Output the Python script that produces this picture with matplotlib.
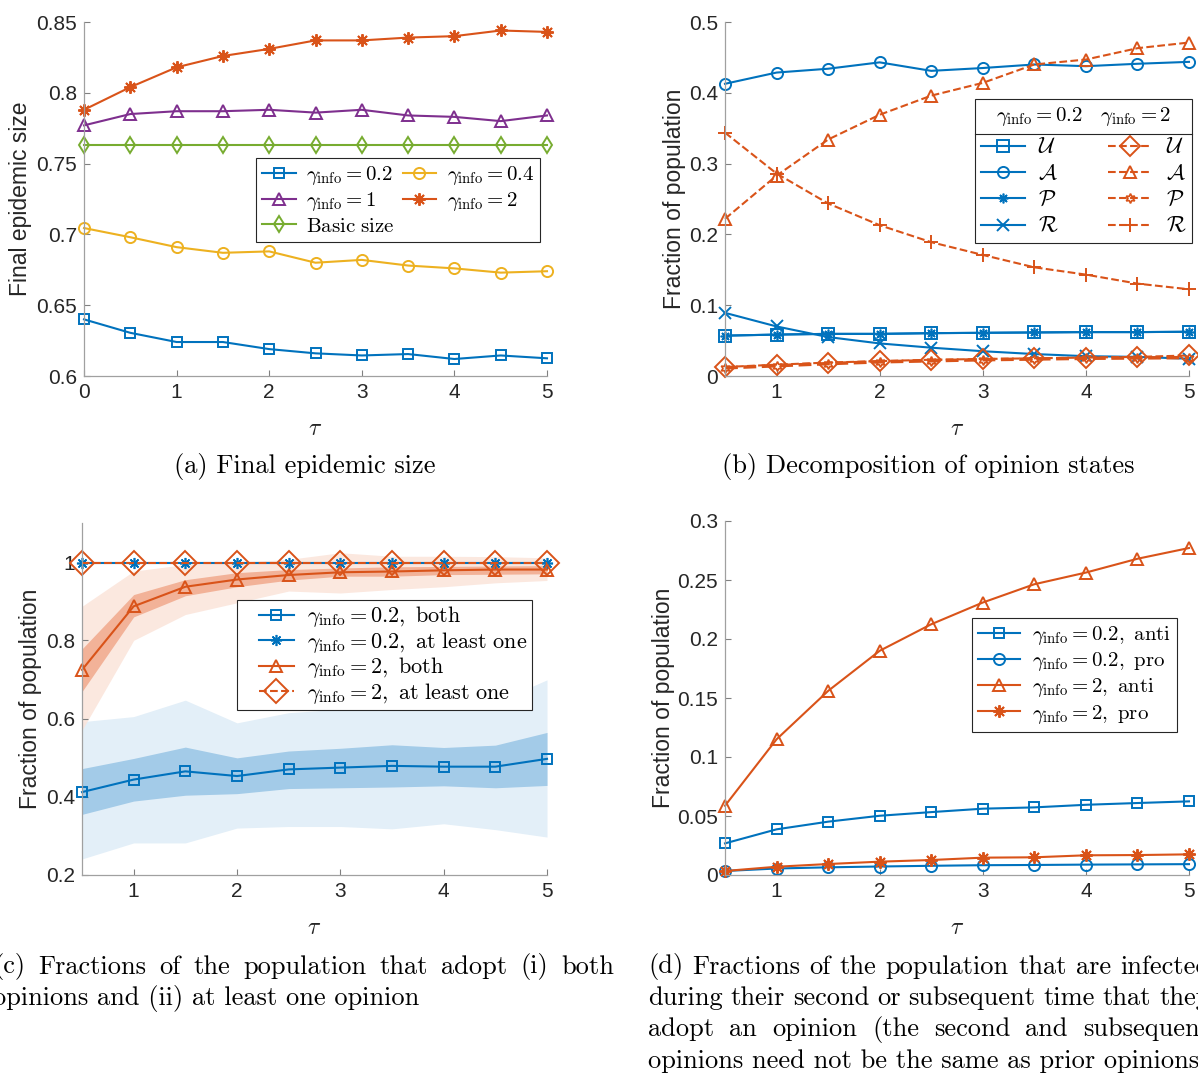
import matplotlib
matplotlib.use('Agg')
import matplotlib.pyplot as plt
from matplotlib.lines import Line2D
from matplotlib.legend_handler import HandlerLine2D
import numpy as np

plt.rcParams['font.family'] = ['Liberation Sans', 'DejaVu Sans']
plt.rcParams['mathtext.fontset'] = 'cm'

W, H = 1198, 1073
BLUE = '#0072BD'
RED = '#D95319'
YEL = '#EDB120'
PUR = '#7E2F8E'
GRN = '#77AC30'
AST = (8, 2, 0)   # MATLAB-style asterisk
HEXA = (6, 1, 0)  # hexagram

# ---- data: (a) final epidemic size
tau_a = [0, 0.5, 1, 1.5, 2, 2.5, 3, 3.5, 4, 4.5, 5]
size_g02 = [0.640, 0.6305, 0.624, 0.624, 0.619, 0.616, 0.6145, 0.6155, 0.612, 0.6145, 0.6125]
size_g04 = [0.7045, 0.698, 0.691, 0.687, 0.688, 0.680, 0.682, 0.678, 0.676, 0.673, 0.674]
size_g1 = [0.777, 0.785, 0.787, 0.787, 0.788, 0.786, 0.788, 0.784, 0.783, 0.780, 0.784]
size_g2 = [0.788, 0.804, 0.818, 0.826, 0.831, 0.837, 0.837, 0.839, 0.840, 0.844, 0.843]
size_basic = [0.763] * 11

# ---- data: (b) opinion states
tau = [0.5, 1, 1.5, 2, 2.5, 3, 3.5, 4, 4.5, 5]
U_g02 = [0.057, 0.0585, 0.0595, 0.0595, 0.0605, 0.061, 0.0615, 0.062, 0.062, 0.0625]
A_g02 = [0.4127, 0.4286, 0.434, 0.443, 0.431, 0.435, 0.440, 0.4376, 0.441, 0.4437]
P_g02 = [0.057, 0.0585, 0.0595, 0.0595, 0.0605, 0.061, 0.0615, 0.062, 0.062, 0.0625]
R_g02 = [0.0892, 0.070, 0.055, 0.046, 0.040, 0.035, 0.031, 0.028, 0.027, 0.0244]
U_g2 = [0.0127, 0.016, 0.019, 0.021, 0.023, 0.024, 0.025, 0.026, 0.027, 0.029]
A_g2 = [0.222, 0.283, 0.334, 0.369, 0.396, 0.414, 0.440, 0.447, 0.463, 0.471]
P_g2 = [0.0115, 0.0145, 0.0175, 0.020, 0.0215, 0.023, 0.024, 0.025, 0.0255, 0.026]
R_g2 = [0.3437, 0.286, 0.2437, 0.213, 0.189, 0.171, 0.1535, 0.1432, 0.1305, 0.1225]

# ---- data: (c) both / at least one, with bands
both_g02 = [0.412, 0.444, 0.465, 0.453, 0.470, 0.4746, 0.479, 0.477, 0.477, 0.497]
both_g02_in_hi = [0.472, 0.498, 0.527, 0.4995, 0.517, 0.524, 0.533, 0.526, 0.532, 0.5645]
both_g02_in_lo = [0.355, 0.389, 0.404, 0.408, 0.421, 0.423, 0.425, 0.428, 0.423, 0.429]
both_g02_out_hi = [0.592, 0.605, 0.647, 0.589, 0.615, 0.624, 0.641, 0.624, 0.641, 0.699]
both_g02_out_lo = [0.241, 0.282, 0.282, 0.320, 0.324, 0.324, 0.318, 0.331, 0.316, 0.297]
both_g2 = [0.7245, 0.887, 0.937, 0.9555, 0.967, 0.974, 0.976, 0.979, 0.981, 0.981]
both_g2_in_hi = [0.778, 0.917, 0.955, 0.973, 0.981, 0.985, 0.988, 0.989, 0.990, 0.991]
both_g2_in_lo = [0.669, 0.860, 0.914, 0.937, 0.954, 0.964, 0.964, 0.968, 0.969, 0.970]
both_g2_out_hi = [0.887, 0.977, 0.994, 1.000, 1.007, 1.024, 1.015, 1.015, 1.014, 1.011]
both_g2_out_lo = [0.570, 0.800, 0.866, 0.896, 0.926, 0.921, 0.930, 0.937, 0.947, 0.953]
one_g02 = [0.999] * 10
one_g2 = [0.999] * 10

# ---- data: (d) reinfection during second or later opinion
anti_g02 = [0.0268, 0.0387, 0.0452, 0.0502, 0.0533, 0.0562, 0.0573, 0.0595, 0.061, 0.0624]
pro_g02 = [0.0034, 0.0055, 0.0065, 0.0072, 0.0078, 0.0083, 0.0085, 0.0088, 0.009, 0.0092]
anti_g2 = [0.0587, 0.115, 0.156, 0.190, 0.2125, 0.2309, 0.2464, 0.2563, 0.268, 0.2771]
pro_g2 = [0.0034, 0.007, 0.0093, 0.0113, 0.0127, 0.0147, 0.015, 0.0167, 0.0169, 0.0175]

fig = plt.figure(figsize=(W / 100, H / 100), dpi=100)


def px_axes(l, r, t, b):
    return fig.add_axes([l / W, 1 - b / H, (r - l) / W, (b - t) / H])


def style(ax, xlim, xticks, ylim, yticks, ylabels):
    for s in ['top', 'right']:
        ax.spines[s].set_visible(False)
    for s in ['left', 'bottom']:
        ax.spines[s].set_color('#a0a0a0')
        ax.spines[s].set_linewidth(0.9)
    ax.set_xlim(xlim)
    ax.set_ylim(ylim)
    ax.set_xticks(xticks)
    ax.set_xticklabels([('%g' % v) for v in xticks])
    ax.set_yticks(yticks)
    ax.set_yticklabels(ylabels)
    ax.tick_params(direction='in', length=4, width=0.8, color='#808080',
                   labelcolor='#262626', labelsize=15, pad=5)
    ax.set_facecolor('none')


def gi(v):
    return r'$\gamma_{\rm info} = %s$' % v


lw = 1.5

# ================= (a)
ax = px_axes(84, 547, 22, 376)
ax.plot(tau_a, size_g02, '-s', color=BLUE, lw=lw, ms=6.5, mfc='none', mew=1.4, clip_on=False, label=gi('0.2'))
ax.plot(tau_a, size_g1, '-^', color=PUR, lw=lw, ms=8, mfc='none', mew=1.4, clip_on=False, label=gi('1'))
ax.plot(tau_a, size_basic, '-d', color=GRN, lw=lw, ms=8, mfc='none', mew=1.4, clip_on=False, label=r'$\mathrm{Basic\ size}$')
ax.plot(tau_a, size_g04, '-o', color=YEL, lw=lw, ms=8, mfc='none', mew=1.4, clip_on=False, label=gi('0.4'))
ax.plot(tau_a, size_g2, '-', marker=AST, color=RED, lw=lw, ms=9, mew=1.4, clip_on=False, label=gi('2'))
style(ax, (0, 5), [0, 1, 2, 3, 4, 5], (0.6, 0.85),
      [0.6, 0.65, 0.7, 0.75, 0.8, 0.85], ['0.6', '0.65', '0.7', '0.75', '0.8', '0.85'])
ax.set_ylabel('Final epidemic size', fontsize=16.5, color='#262626')
ax.yaxis.set_label_coords(-0.112, 0.5)
ax.set_xlabel(r'$\tau$', fontsize=17, color='#262626')
ax.xaxis.set_label_coords(0.5, -0.12)
leg = ax.legend(ncol=2, loc='upper left', bbox_to_anchor=(0.3715, 0.6158), borderaxespad=0,
                fontsize=15, handlelength=1.6, handletextpad=0.5, columnspacing=0.4,
                labelspacing=0.15, borderpad=0.3, fancybox=False, framealpha=1, edgecolor='#262626')
leg.get_frame().set_linewidth(0.8)

# ================= (b)
ax = px_axes(725, 1189, 22, 376)
hb = []
hb.append(ax.plot(tau, U_g02, '-s', color=BLUE, lw=lw, ms=9, mfc='none', mew=1.4, clip_on=False, label=r'$\mathcal{U}$')[0])
hb.append(ax.plot(tau, A_g02, '-o', color=BLUE, lw=lw, ms=8, mfc='none', mew=1.4, clip_on=False, label=r'$\mathcal{A}$')[0])
hb.append(ax.plot(tau, P_g02, '-', marker=AST, color=BLUE, lw=lw, ms=7, mew=1.2, clip_on=False, label=r'$\mathcal{P}$')[0])
hb.append(ax.plot(tau, R_g02, '-x', color=BLUE, lw=lw, ms=8, mew=1.4, clip_on=False, label=r'$\mathcal{R}$')[0])
hb.append(ax.plot(tau, U_g2, '--D', color=RED, lw=lw, ms=10, mfc='none', mew=1.4, clip_on=False, label=r'$\mathcal{U}$')[0])
hb.append(ax.plot(tau, A_g2, '--^', color=RED, lw=lw, ms=8, mfc='none', mew=1.4, clip_on=False, label=r'$\mathcal{A}$')[0])
hb.append(ax.plot(tau, P_g2, '--', marker=HEXA, color=RED, lw=2.5, ms=7, mfc='none', mew=1.2, clip_on=False, label=r'$\mathcal{P}$')[0])
hb.append(ax.plot(tau, R_g2, '--+', color=RED, lw=lw, ms=10, mew=1.4, clip_on=False, label=r'$\mathcal{R}$')[0])
style(ax, (0.5, 5), [1, 2, 3, 4, 5], (0, 0.5),
      [0, 0.1, 0.2, 0.3, 0.4, 0.5], ['0', '0.1', '0.2', '0.3', '0.4', '0.5'])
ax.set_ylabel('Fraction of population', fontsize=16.5, color='#262626')
ax.yaxis.set_label_coords(-0.085, 0.5)
ax.set_xlabel(r'$\tau$', fontsize=17, color='#262626')
ax.xaxis.set_label_coords(0.5, -0.12)
legb = ax.legend(handles=hb, ncol=2, loc='upper left', bbox_to_anchor=(0.5388, 0.782), borderaxespad=0,
                 title=gi('0.2') + r'$\quad$' + gi('2'), title_fontsize=15,
                 fontsize=16, handlelength=2.0, handletextpad=0.6, columnspacing=2.2,
                 labelspacing=0.24, borderpad=0.25, fancybox=False, framealpha=1, edgecolor='#262626')
legb.get_frame().set_linewidth(0.8)
legb._legend_box.sep = 7  # extra room under the header row
for h in legb.legend_handles:
    h.set_linewidth(lw)

# ================= (c)
ax = px_axes(82, 547, 523, 875)
ax.fill_between(tau, both_g02_out_lo, both_g02_out_hi, color='#E3EFF8', lw=0)
ax.fill_between(tau, both_g2_out_lo, both_g2_out_hi, color='#FBE4DA', lw=0, alpha=0.85)
ax.fill_between(tau, both_g02_in_lo, both_g02_in_hi, color='#A3CBE8', lw=0)
ax.fill_between(tau, both_g2_in_lo, both_g2_in_hi, color='#F2B298', lw=0)
ax.plot(tau, both_g02, '-s', color=BLUE, lw=lw, ms=7, mfc='none', mew=1.4, clip_on=False, label=gi('0.2') + r'$,\ \mathrm{both}$')
ax.plot(tau, one_g02, '-', marker=AST, color=BLUE, lw=lw, ms=8, mew=1.2, clip_on=False, label=gi('0.2') + r'$,\ \mathrm{at\ least\ one}$')
ax.plot(tau, both_g2, '-^', color=RED, lw=lw, ms=9, mfc='none', mew=1.4, clip_on=False, label=gi('2') + r'$,\ \mathrm{both}$')
ax.plot(tau, one_g2, '--D', color=RED, lw=lw, ms=12, mfc='none', mew=1.4, clip_on=False, label=gi('2') + r'$,\ \mathrm{at\ least\ one}$')
style(ax, (0.5, 5), [1, 2, 3, 4, 5], (0.2, 1.1),
      [0.2, 0.4, 0.6, 0.8, 1.0], ['0.2', '0.4', '0.6', '0.8', '1'])
ax.set_ylabel('Fraction of population', fontsize=16.5, color='#262626')
ax.yaxis.set_label_coords(-0.085, 0.5)
ax.set_xlabel(r'$\tau$', fontsize=17, color='#262626')
ax.xaxis.set_label_coords(0.5, -0.12)
leg = ax.legend(loc='upper left', bbox_to_anchor=(0.3333, 0.7813), borderaxespad=0,
                fontsize=16, handlelength=2.35, handletextpad=0.6,
                handler_map={Line2D: HandlerLine2D(xpad=0.8)},
                labelspacing=0.02, borderpad=0.2, fancybox=False, framealpha=1, edgecolor='#262626')
leg.get_frame().set_linewidth(0.8)

# ================= (d)
ax = px_axes(725, 1189, 521, 875)
ax.plot(tau, anti_g02, '-s', color=BLUE, lw=lw, ms=7, mfc='none', mew=1.4, clip_on=False, label=gi('0.2') + r'$,\ \mathrm{anti}$')
ax.plot(tau, pro_g02, '-o', color=BLUE, lw=lw, ms=8, mfc='none', mew=1.4, clip_on=False, label=gi('0.2') + r'$,\ \mathrm{pro}$')
ax.plot(tau, anti_g2, '-^', color=RED, lw=lw, ms=9, mfc='none', mew=1.4, clip_on=False, label=gi('2') + r'$,\ \mathrm{anti}$')
ax.plot(tau, pro_g2, '-', marker=AST, color=RED, lw=lw, ms=9, mew=1.4, clip_on=False, label=gi('2') + r'$,\ \mathrm{pro}$')
style(ax, (0.5, 5), [1, 2, 3, 4, 5], (0, 0.3),
      [0, 0.05, 0.1, 0.15, 0.2, 0.25, 0.3], ['0', '0.05', '0.1', '0.15', '0.2', '0.25', '0.3'])
ax.set_ylabel('Fraction of population', fontsize=16.5, color='#262626')
ax.yaxis.set_label_coords(-0.107, 0.5)
ax.set_xlabel(r'$\tau$', fontsize=17, color='#262626')
ax.xaxis.set_label_coords(0.5, -0.12)
leg = ax.legend(loc='upper left', bbox_to_anchor=(0.5323, 0.726), borderaxespad=0,
                fontsize=15, handlelength=2.0, handletextpad=0.6,
                labelspacing=0.15, borderpad=0.3, fancybox=False, framealpha=1, edgecolor='#262626')
leg.get_frame().set_linewidth(0.8)

# ================= captions
CAP = dict(fontfamily='cmr10', fontsize=19, color='black', va='center')
fig.text(305 / W, 1 - 467 / H, '(a) Final epidemic size', ha='center', **CAP)
fig.text(928 / W, 1 - 467 / H, '(b) Decomposition of opinion states', ha='center', **CAP)

r = fig.canvas.get_renderer()


def paragraph(lines, x0, x1, y0, dy):
    for k, line in enumerate(lines):
        y = 1 - (y0 + k * dy) / H
        if k == len(lines) - 1:
            fig.text(x0 / W, y, line, ha='left', **CAP)
            continue
        words = line.split()
        txts = [fig.text(0, y, w_, ha='left', **CAP) for w_ in words]
        widths = [t.get_window_extent(r).width for t in txts]
        gap = (x1 - x0 - sum(widths)) / (len(words) - 1)
        x = x0
        for t, wd in zip(txts, widths):
            t.set_x(x / W)
            x += wd + gap


paragraph(['(c) Fractions of the population that adopt (i) both',
           'opinions and (ii) at least one opinion'], -7, 614, 967, 31.3)
paragraph(['(d) Fractions of the population that are infected',
           'during their second or subsequent time that they',
           'adopt an opinion (the second and subsequent',
           'opinions need not be the same as prior opinions).'], 648, 1210, 967, 31.3)

# header rule in legend (b)
fig.canvas.draw()
tb = legb.get_title().get_window_extent(r)
fb = legb.get_frame().get_window_extent(r)
yl = tb.y0 - 6
fig.add_artist(Line2D([fb.x0 / W, fb.x1 / W], [yl / H, yl / H], color='#262626', lw=0.8))

fig.savefig('out.png', dpi=100)
